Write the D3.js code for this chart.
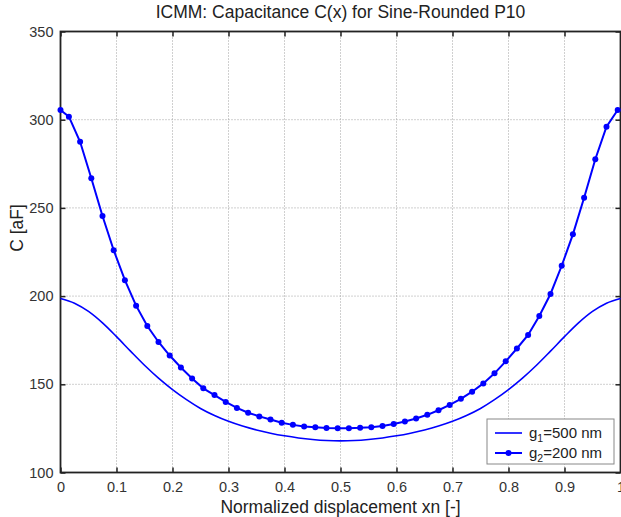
<!DOCTYPE html>
<html>
<head>
<meta charset="utf-8">
<script src="https://cdn.jsdelivr.net/npm/d3@7"></script>
<style>
  body { margin: 0; background: #fff; }
  svg { display: block; font-family: "Liberation Sans", Arial, sans-serif; }
</style>
</head>
<body>
<div id="chart"></div>
<script>
// Data
const xTicks = [0, 0.1, 0.2, 0.3, 0.4, 0.5, 0.6, 0.7, 0.8, 0.9, 1];
const yTicks = [100, 150, 200, 250, 300, 350];

// g2 = 200 nm (line with markers)
const xG2 = [0, 0.015, 0.035, 0.055, 0.075, 0.095, 0.115, 0.135, 0.155, 0.175,
  0.195, 0.215, 0.235, 0.255, 0.275, 0.295, 0.315, 0.335, 0.355, 0.375,
  0.395, 0.415, 0.435, 0.455, 0.475, 0.495, 0.515, 0.535, 0.555, 0.575,
  0.595, 0.615, 0.635, 0.655, 0.675, 0.695, 0.715, 0.735, 0.755, 0.775,
  0.795, 0.815, 0.835, 0.855, 0.875, 0.895, 0.915, 0.935, 0.955, 0.975, 0.995];
const cG2 = [305.5, 301.7, 287.5, 266.8, 245.4, 226.0, 209.0, 194.6, 183.0, 174.0,
  166.3, 159.5, 153.3, 147.7, 143.9, 140.0, 136.6, 133.9, 131.8, 130.0,
  128.2, 127.0, 126.1, 125.6, 125.2, 125.1, 125.1, 125.3, 125.7, 126.4,
  127.5, 128.9, 130.6, 132.7, 135.3, 138.3, 141.8, 145.8, 150.5, 156.2,
  163.0, 170.3, 178.0, 188.7, 201.2, 217.2, 235.0, 255.8, 277.6, 296.0, 305.5];

// g1 = 500 nm (plain line)
const xG1 = [0, 0.025, 0.05, 0.075, 0.1, 0.125, 0.15, 0.175, 0.2, 0.225,
  0.25, 0.275, 0.3, 0.325, 0.35, 0.375, 0.4, 0.425, 0.45, 0.475,
  0.5, 0.525, 0.55, 0.575, 0.6, 0.625, 0.65, 0.675, 0.7, 0.725,
  0.75, 0.775, 0.8, 0.825, 0.85, 0.875, 0.9, 0.925, 0.95, 0.975, 1];
const cG1 = [198.7, 196.0, 191.3, 184.8, 177.0, 168.8, 160.8, 153.5, 147.0, 141.3,
  136.3, 132.3, 129.0, 126.3, 124.1, 122.3, 120.8, 119.6, 118.7, 118.1,
  117.9, 118.1, 118.7, 119.6, 120.8, 122.3, 124.1, 126.3, 129.0, 132.3,
  136.3, 141.3, 147.0, 153.5, 160.8, 168.8, 177.0, 184.8, 191.3, 196.0, 198.7];

const width = 621, height = 517;
const plot = { left: 60.5, right: 620.5, top: 31.5, bottom: 472.5 };

const svg = d3.select("#chart").append("svg")
  .attr("width", width)
  .attr("height", height);

const x = d3.scaleLinear().domain([0, 1]).range([plot.left, plot.right]);
const y = d3.scaleLinear().domain([100, 350]).range([plot.bottom, plot.top]);

// Grid lines (dotted)
svg.append("g").selectAll("line")
  .data(xTicks.slice(1, -1))
  .join("line")
    .attr("x1", d => x(d)).attr("x2", d => x(d))
    .attr("y1", plot.top).attr("y2", plot.bottom)
    .attr("stroke", "#a0a0a0").attr("stroke-width", 1)
    .attr("stroke-dasharray", "1,2");
svg.append("g").selectAll("line")
  .data(yTicks.slice(1, -1))
  .join("line")
    .attr("x1", plot.left).attr("x2", plot.right)
    .attr("y1", d => y(d)).attr("y2", d => y(d))
    .attr("stroke", "#a0a0a0").attr("stroke-width", 1)
    .attr("stroke-dasharray", "1,2");

// Axes with inward ticks (MATLAB style)
const fmtX = d => d === 0 || d === 1 ? d3.format("d")(d) : d3.format(".1f")(d);
const axB = svg.append("g").attr("transform", `translate(0,${plot.bottom})`)
  .call(d3.axisBottom(x).tickValues(xTicks).tickSizeInner(-5).tickSizeOuter(0).tickPadding(9).tickFormat(fmtX));
const axT = svg.append("g").attr("transform", `translate(0,${plot.top})`)
  .call(d3.axisTop(x).tickValues(xTicks).tickSizeInner(-5).tickSizeOuter(0).tickFormat(""));
const axL = svg.append("g").attr("transform", `translate(${plot.left},0)`)
  .call(d3.axisLeft(y).tickValues(yTicks).tickSizeInner(-5).tickSizeOuter(0).tickPadding(7));
const axR = svg.append("g").attr("transform", `translate(${plot.right},0)`)
  .call(d3.axisRight(y).tickValues(yTicks).tickSizeInner(-5).tickSizeOuter(0).tickFormat(""));

[axB, axT, axL, axR].forEach(g => {
  g.select(".domain").remove();
  g.selectAll(".tick line").attr("stroke", "#222").attr("stroke-width", 1.5);
  g.selectAll("text").attr("font-size", 14.5).attr("fill", "#333")
    .attr("font-family", "'Liberation Sans', Arial, sans-serif");
});

// Box
svg.append("rect")
  .attr("x", plot.left).attr("y", plot.top)
  .attr("width", plot.right - plot.left).attr("height", plot.bottom - plot.top)
  .attr("fill", "none").attr("stroke", "#222").attr("stroke-width", 1.8);

// Curves
const g1Data = xG1.map((v, i) => ({ x: v, c: cG1[i] }));
const g2Data = xG2.map((v, i) => ({ x: v, c: cG2[i] }));

svg.append("path")
  .datum(g1Data)
  .attr("fill", "none").attr("stroke", "#0000ff").attr("stroke-width", 1.6)
  .attr("d", d3.line().x(d => x(d.x)).y(d => y(d.c)).curve(d3.curveMonotoneX));

svg.append("path")
  .datum(g2Data)
  .attr("fill", "none").attr("stroke", "#0000ff").attr("stroke-width", 2)
  .attr("d", d3.line().x(d => x(d.x)).y(d => y(d.c)));

svg.append("g").selectAll("circle")
  .data(g2Data)
  .join("circle")
    .attr("cx", d => x(d.x)).attr("cy", d => y(d.c))
    .attr("r", 3).attr("fill", "#0000ff");

// Title and labels
svg.append("text")
  .attr("x", (plot.left + plot.right) / 2).attr("y", 18)
  .attr("text-anchor", "middle").attr("font-size", 17.5).attr("fill", "#222")
  .text("ICMM: Capacitance C(x) for Sine-Rounded P10");

svg.append("text")
  .attr("x", (plot.left + plot.right) / 2).attr("y", 513)
  .attr("text-anchor", "middle").attr("font-size", 17.5).attr("fill", "#222")
  .text("Normalized displacement xn [-]");

svg.append("text")
  .attr("transform", "rotate(-90)")
  .attr("x", -228).attr("y", 23)
  .attr("text-anchor", "middle").attr("font-size", 17.5).attr("fill", "#222")
  .text("C [aF]");

// Legend
const legend = svg.append("g").attr("transform", "translate(487,419)");
legend.append("rect")
  .attr("width", 127).attr("height", 45)
  .attr("fill", "#fff").attr("stroke", "#888").attr("stroke-width", 1);

const entries = [
  { sub: "1", rest: "=500 nm", y: 14, marker: false },
  { sub: "2", rest: "=200 nm", y: 34, marker: true }
];
entries.forEach(e => {
  legend.append("line")
    .attr("x1", 8).attr("x2", 35).attr("y1", e.y).attr("y2", e.y)
    .attr("stroke", "#0000ff").attr("stroke-width", e.marker ? 2 : 1.6);
  if (e.marker) {
    legend.append("circle").attr("cx", 21.5).attr("cy", e.y).attr("r", 3).attr("fill", "#0000ff");
  }
  const t = legend.append("text")
    .attr("x", 42).attr("y", e.y + 5)
    .attr("font-size", 15).attr("fill", "#222");
  t.append("tspan").text("g");
  t.append("tspan").attr("dy", 4).attr("font-size", 10.5).text(e.sub);
  t.append("tspan").attr("dy", -4).text(e.rest);
});
</script>
</body>
</html>
